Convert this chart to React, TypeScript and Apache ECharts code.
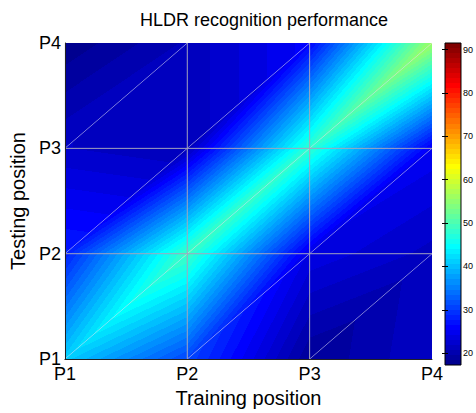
import React, { useEffect, useRef } from 'react';
import * as echarts from 'echarts';

// Axis categories
const positions = ['P1', 'P2', 'P3', 'P4'];
const positionValues = [1, 2, 3, 4];
// Recognition rate (%), one array per testing position, columns = training position P1..P4
const testP1 = [41, 31, 18.5, 22];
const testP2 = [28, 49, 24, 21.5];
const testP3 = [22, 21, 48, 25];
const testP4 = [17.5, 21, 26, 56];
const rateRows = [testP1, testP2, testP3, testP4];
// Colour scale
const colorMin = 17.3;
const colorMax = 91.5;
const colorbarTicks = [20, 30, 40, 50, 60, 70, 80, 90];

const FONT = '"Liberation Sans", Arial, Helvetica, sans-serif';

function jet(k: number): string {
  let r = 0, g = 0, b = 0;
  if (k >= 25 && k <= 40) r = (k - 24) / 16; else if (k >= 41 && k <= 55) r = 1; else if (k >= 56) r = (72 - k) / 16;
  if (k >= 9 && k <= 24) g = (k - 8) / 16; else if (k >= 25 && k <= 39) g = 1; else if (k >= 40 && k <= 55) g = (56 - k) / 16;
  if (k <= 8) b = (k + 8) / 16; else if (k <= 23) b = 1; else if (k <= 39) b = (40 - k) / 16;
  return `rgb(${Math.round(r * 255)},${Math.round(g * 255)},${Math.round(b * 255)})`;
}

function colorIndex(v: number): number {
  let k = Math.floor(((v - colorMin) / (colorMax - colorMin)) * 64) + 1;
  if (k < 1) k = 1;
  if (k > 64) k = 64;
  return k;
}

function bandStops(vLo: number, vHi: number) {
  const step = (colorMax - colorMin) / 64;
  const stops: { offset: number; color: string }[] = [];
  let a = vLo;
  let guard = 0;
  while (a < vHi - 1e-9 && guard < 200) {
    guard++;
    const k = colorIndex(a + 1e-9);
    let b = colorMin + k * step;
    if (b > vHi || k === 64) b = vHi;
    const c = jet(k);
    stops.push({ offset: (a - vLo) / (vHi - vLo), color: c }, { offset: (b - vLo) / (vHi - vLo), color: c });
    a = b;
  }
  return stops;
}

function triangleFill(pts: number[][], vals: number[]) {
  const [p0, p1, p2] = pts;
  const [v0, v1, v2] = vals;
  const vLo = Math.min(v0, v1, v2);
  const vHi = Math.max(v0, v1, v2);
  if (vHi - vLo < 1e-6) return jet(colorIndex(vLo));
  const d1x = p1[0] - p0[0], d1y = p1[1] - p0[1];
  const d2x = p2[0] - p0[0], d2y = p2[1] - p0[1];
  const dv1 = v1 - v0, dv2 = v2 - v0;
  const det = d1x * d2y - d1y * d2x;
  const ax = (dv1 * d2y - dv2 * d1y) / det;
  const ay = (d1x * dv2 - d2x * dv1) / det;
  const n2 = ax * ax + ay * ay;
  const sx = p0[0] + (ax * (vLo - v0)) / n2;
  const sy = p0[1] + (ay * (vLo - v0)) / n2;
  const ex = p0[0] + (ax * (vHi - v0)) / n2;
  const ey = p0[1] + (ay * (vHi - v0)) / n2;
  return new echarts.graphic.LinearGradient(sx, sy, ex, ey, bandStops(vLo, vHi), true);
}

export default function App() {
  const ref = useRef<HTMLDivElement>(null);
  useEffect(() => {
    if (!ref.current) return;
    const chart = echarts.init(ref.current, undefined, { renderer: 'svg' });

    const surfaceData: number[][] = [];
    rateRows.forEach((row, j) => {
      row.forEach((v, i) => surfaceData.push([positionValues[i], positionValues[j], v]));
    });
    const n = positionValues.length;

    const surfaceItem = (params: any, api: any) => {
      const idx = params.dataIndex;
      const i = idx % n;
      const j = Math.floor(idx / n);
      if (i >= n - 1 || j >= n - 1) return { type: 'group', children: [] };
      const xa = positionValues[i], xb = positionValues[i + 1];
      const ya = positionValues[j], yb = positionValues[j + 1];
      const A = api.coord([xa, ya]), B = api.coord([xb, ya]), C = api.coord([xb, yb]), D = api.coord([xa, yb]);
      const vA = api.value(2), vB = rateRows[j][i + 1], vC = rateRows[j + 1][i + 1], vD = rateRows[j + 1][i];
      return {
        type: 'group',
        children: [
          { type: 'polygon', shape: { points: [A, B, C] }, style: { fill: triangleFill([A, B, C], [vA, vB, vC]) } },
          { type: 'polygon', shape: { points: [A, C, D] }, style: { fill: triangleFill([A, C, D], [vA, vC, vD]) } },
        ],
      };
    };

    const meshItem = (params: any, api: any) => {
      const idx = params.dataIndex;
      const i = idx % n;
      const j = Math.floor(idx / n);
      const children: any[] = [];
      const x = api.value(0), y = api.value(1);
      if (i < n - 1 && j < n - 1) {
        const p = api.coord([x, y]), q = api.coord([positionValues[i + 1], positionValues[j + 1]]);
        children.push({ type: 'line', shape: { x1: p[0], y1: p[1], x2: q[0], y2: q[1] }, style: { stroke: 'rgba(205,205,240,0.5)', lineWidth: 0.8 } });
      }
      if (i > 0 && i < n - 1 && j < n - 1) {
        const p = api.coord([x, y]), q = api.coord([x, positionValues[j + 1]]);
        children.push({ type: 'line', shape: { x1: p[0], y1: p[1], x2: q[0], y2: q[1] }, style: { stroke: 'rgba(160,160,185,0.95)', lineWidth: 1 } });
      }
      if (j > 0 && j < n - 1 && i < n - 1) {
        const p = api.coord([x, y]), q = api.coord([positionValues[i + 1], y]);
        children.push({ type: 'line', shape: { x1: p[0], y1: p[1], x2: q[0], y2: q[1] }, style: { stroke: 'rgba(160,160,185,0.95)', lineWidth: 1 } });
      }
      return { type: 'group', children };
    };

    const colorbarItem = (params: any, api: any) => {
      const p0 = api.coord([api.value(0), api.value(1)]);
      const p1 = api.coord([api.value(2), api.value(3)]);
      return {
        type: 'rect',
        shape: { x: p0[0], y: p1[1], width: p1[0] - p0[0], height: p0[1] - p1[1] },
        style: {
          fill: new echarts.graphic.LinearGradient(0, p0[1], 0, p1[1], bandStops(colorMin, colorMax), true),
          stroke: '#000',
          lineWidth: 1,
        },
      };
    };

    const label = (v: number) => positions[positionValues.indexOf(v)] ?? '';

    chart.setOption({
      animation: false,
      textStyle: { fontFamily: FONT },
      title: {
        text: 'HLDR recognition performance',
        left: 135,
        top: 6,
        textStyle: { fontSize: 18, fontWeight: 'normal', color: '#000', fontFamily: FONT },
      },
      grid: [
        { left: 63, top: 43, width: 369, height: 322 },
        { left: 445, top: 43, width: 18, height: 322 },
      ],
      xAxis: [
        {
          gridIndex: 0,
          type: 'value',
          min: 1,
          max: 4,
          interval: 1,
          name: 'Training position',
          nameLocation: 'middle',
          nameGap: 23,
          nameTextStyle: { fontSize: 20, color: '#000', fontFamily: FONT },
          axisLine: { show: true, lineStyle: { color: '#222', width: 1 } },
          axisTick: { show: false },
          splitLine: { show: false },
          axisLabel: { formatter: label, fontSize: 18, color: '#000', margin: 6, fontFamily: FONT },
          z: 5,
        },
        { gridIndex: 1, type: 'value', min: 0, max: 1, show: false },
      ],
      yAxis: [
        {
          gridIndex: 0,
          type: 'value',
          min: 1,
          max: 4,
          interval: 1,
          name: 'Testing position',
          nameLocation: 'middle',
          nameGap: 36,
          nameRotate: 90,
          nameTextStyle: { fontSize: 20, color: '#000', fontFamily: FONT },
          axisLine: { show: true, lineStyle: { color: '#222', width: 1 } },
          axisTick: { show: false },
          splitLine: { show: false },
          axisLabel: { formatter: label, fontSize: 18, color: '#000', margin: 4, fontFamily: FONT },
          z: 5,
        },
        {
          gridIndex: 1,
          type: 'value',
          position: 'right',
          min: colorMin,
          max: colorMax,
          axisLine: { show: false },
          splitLine: { show: false },
          axisTick: { show: true, inside: true, length: 3, customValues: colorbarTicks, lineStyle: { color: '#000' } },
          axisLabel: { customValues: colorbarTicks, fontSize: 9, color: '#000', margin: 2, fontFamily: FONT },
          z: 5,
        },
        {
          gridIndex: 1,
          type: 'value',
          position: 'left',
          min: colorMin,
          max: colorMax,
          axisLine: { show: false },
          splitLine: { show: false },
          axisTick: { show: true, inside: true, length: 3, customValues: colorbarTicks, lineStyle: { color: '#000' } },
          axisLabel: { show: false },
          z: 5,
        },
      ],
      series: [
        {
          type: 'custom',
          name: 'surface',
          xAxisIndex: 0,
          yAxisIndex: 0,
          renderItem: surfaceItem,
          data: surfaceData,
          z: 2,
          silent: true,
        },
        {
          type: 'custom',
          name: 'mesh',
          xAxisIndex: 0,
          yAxisIndex: 0,
          renderItem: meshItem,
          data: surfaceData,
          z: 3,
          silent: true,
        },
        {
          type: 'custom',
          name: 'colorbar',
          xAxisIndex: 1,
          yAxisIndex: 1,
          renderItem: colorbarItem,
          data: [[0, colorMin, 1, colorMax]],
          z: 2,
          silent: true,
        },
      ],
    });
    return () => chart.dispose();
  }, []);
  return <div ref={ref} style={{ position: 'absolute', left: 0, top: 0, width: 476, height: 413 }} />;
}
